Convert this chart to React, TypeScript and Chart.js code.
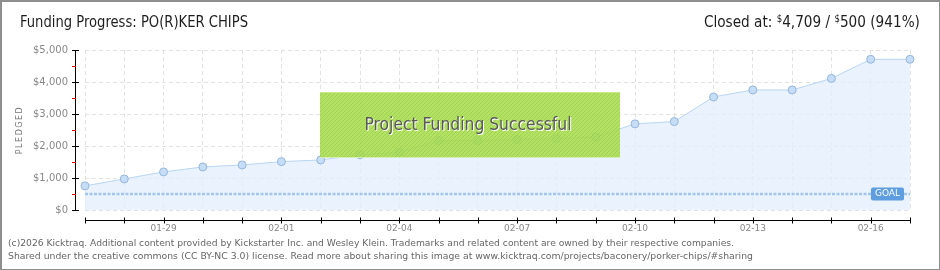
import React, { useEffect, useLayoutEffect, useRef } from 'react';
import { Chart, registerables } from 'chart.js';

Chart.register(...registerables);

// ---------- data ----------
const dates = [
  '01-27', '01-28', '01-29', '01-30', '01-31', '02-01', '02-02', '02-03', '02-04', '02-05', '02-06',
  '02-07', '02-08', '02-09', '02-10', '02-11', '02-12', '02-13', '02-14', '02-15', '02-16', '02-17',
];
const pledged = [
  754, 972, 1190, 1346, 1408, 1511, 1564, 1726, 1807, 2171, 2171,
  2202, 2234, 2287, 2692, 2763, 3533, 3751, 3751, 4112, 4709, 4709,
];
const goalAmount = 500;
const labeledDates = ['01-29', '02-01', '02-04', '02-07', '02-10', '02-13', '02-16'];
const yMin = 0;
const yMax = 5000;
const yStep = 1000;
const yMinorStep = 500;

const titleText = 'Funding Progress: PO(R)KER CHIPS';
const closedLabel = 'Closed at:';
const closedAmount = '4,709';
const goalText = '500 (941%)';
const bannerText = 'Project Funding Successful';
const goalBadgeText = 'GOAL';
const yAxisTitle = 'PLEDGED';
const footerLines = [
  '(c)2026 Kicktraq. Additional content provided by Kickstarter Inc. and Wesley Klein. Trademarks and related content are owned by their respective companies.',
  'Shared under the creative commons (CC BY-NC 3.0) license. Read more about sharing this image at www.kicktraq.com/projects/baconery/porker-chips/#sharing',
];

const goalSeries = dates.map(() => goalAmount);

const UI_FONT = "'Liberation Sans Narrow', 'DejaVu Sans Condensed', 'DejaVu Sans', sans-serif";
const SMALL_FONT = "'DejaVu Sans', Verdana, sans-serif";

function FitText({ width, origin, style, children }: any) {
  const ref = useRef<HTMLSpanElement>(null);
  useLayoutEffect(() => {
    const el = ref.current;
    if (!el) return;
    const fit = () => {
      el.style.transform = 'none';
      const w = el.getBoundingClientRect().width;
      if (w > 0) el.style.transform = `scaleX(${width / w})`;
    };
    fit();
    (document as any).fonts?.ready?.then(fit);
  }, [width]);
  return (
    <span
      ref={ref}
      style={{
        display: 'inline-block',
        whiteSpace: 'nowrap',
        transformOrigin: origin === 'right' ? 'right center' : 'left center',
        ...style,
      }}
    >
      {children}
    </span>
  );
}

let hatch: CanvasPattern | null = null;
function getHatch(ctx: CanvasRenderingContext2D) {
  if (hatch) return hatch;
  const c = document.createElement('canvas');
  c.width = 4;
  c.height = 4;
  const g = c.getContext('2d')!;
  g.fillStyle = 'rgba(168,221,78,0.88)';
  g.fillRect(0, 0, 4, 4);
  g.strokeStyle = 'rgba(120,175,40,0.3)';
  g.lineWidth = 1;
  g.beginPath();
  g.moveTo(0, 4);
  g.lineTo(4, 0);
  g.stroke();
  hatch = ctx.createPattern(c, 'repeat');
  return hatch;
}

const decorPlugin = {
  id: 'decor',
  afterDatasetsDraw(chart: any) {
    const { ctx, scales } = chart;
    const x = scales.x;
    const y = scales.y;
    // GOAL badge at right end of goal line
    const gy = y.getPixelForValue(goalAmount);
    const right = x.getPixelForValue(dates.length - 1) - 6;
    const bw = 33;
    const bh = 13;
    ctx.save();
    ctx.fillStyle = '#5d9de0';
    ctx.beginPath();
    (ctx as any).roundRect(right - bw, gy - bh / 2, bw, bh, 2);
    ctx.fill();
    ctx.fillStyle = '#ffffff';
    ctx.font = `9px ${SMALL_FONT}`;
    ctx.textAlign = 'center';
    ctx.textBaseline = 'middle';
    ctx.fillText(goalBadgeText, right - bw / 2, gy);
    ctx.restore();

    // success banner
    const bx = 320;
    const by = 92;
    const bW = 300;
    const bH = 66;
    ctx.save();
    ctx.fillStyle = getHatch(ctx) as any;
    ctx.fillRect(bx, by, bW, bH);
    ctx.fillStyle = 'rgba(200,235,140,0.9)';
    ctx.fillRect(bx, by, bW, 1);
    ctx.fillStyle = 'rgba(220,240,190,0.9)';
    ctx.fillRect(bx, by + bH - 1, bW, 1);
    ctx.font = `17px ${UI_FONT}`;
    const tw = ctx.measureText(bannerText).width;
    const target = 207;
    const sx = target / tw;
    ctx.translate(bx + bW / 2 - 2, 130);
    ctx.scale(sx, 1);
    ctx.textAlign = 'center';
    ctx.textBaseline = 'alphabetic';
    ctx.fillStyle = '#ffffff';
    ctx.fillText(bannerText, 1 / sx, 1);
    ctx.fillStyle = '#5a5a5a';
    ctx.fillText(bannerText, 0, 0);
    ctx.restore();
  },
  afterDraw(chart: any) {
    const { ctx, scales } = chart;
    const x = scales.x;
    const y = scales.y;
    ctx.save();
    // y axis line, offset from chart area
    const ax = 75.5;
    ctx.strokeStyle = '#000';
    ctx.lineWidth = 1;
    ctx.beginPath();
    ctx.moveTo(ax, y.getPixelForValue(yMax));
    ctx.lineTo(ax, y.getPixelForValue(yMin) + 0.5);
    ctx.stroke();
    for (let v = yMin; v <= yMax; v += yStep) {
      const py = Math.round(y.getPixelForValue(v)) + 0.5;
      ctx.strokeStyle = '#000';
      ctx.beginPath();
      ctx.moveTo(72, py);
      ctx.lineTo(79, py);
      ctx.stroke();
    }
    for (let v = yMin + yMinorStep; v < yMax; v += yStep) {
      const py = Math.round(y.getPixelForValue(v)) + 0.5;
      ctx.strokeStyle = '#e00000';
      ctx.beginPath();
      ctx.moveTo(72, py);
      ctx.lineTo(76, py);
      ctx.stroke();
    }
    // x axis line, offset below chart area
    const ay = 220.5;
    ctx.strokeStyle = '#000';
    ctx.beginPath();
    ctx.moveTo(x.getPixelForValue(0), ay);
    ctx.lineTo(x.getPixelForValue(dates.length - 1) + 1, ay);
    ctx.stroke();
    for (let i = 0; i < dates.length; i++) {
      const px = Math.round(x.getPixelForValue(i)) + 0.5;
      ctx.beginPath();
      ctx.moveTo(px, ay - 3);
      ctx.lineTo(px, ay + 3);
      ctx.stroke();
    }
    // y axis title
    ctx.translate(20, (y.top + y.bottom) / 2);
    ctx.rotate(-Math.PI / 2);
    ctx.font = `8px ${SMALL_FONT}`;
    (ctx as any).letterSpacing = '1.5px';
    ctx.fillStyle = '#777';
    ctx.textAlign = 'center';
    ctx.textBaseline = 'middle';
    ctx.fillText(yAxisTitle, 0, 0);
    ctx.restore();
  },
};

function KickChart() {
  const canvasRef = useRef<HTMLCanvasElement>(null);
  useEffect(() => {
    const canvas = canvasRef.current!;
    const fixPad = (s: any) => {
      s.paddingLeft = 0;
      s.paddingRight = 0;
      s.paddingTop = 0;
      s.paddingBottom = 0;
    };
    const chart = new Chart(canvas, {
      type: 'line',
      data: {
        labels: dates,
        datasets: [
          {
            label: 'Goal',
            data: goalSeries,
            borderColor: '#a3c6ec',
            borderWidth: 2.5,
            borderDash: [3, 1.5],
            pointRadius: 0,
            fill: false,
            order: 1,
          },
          {
            label: 'Pledged',
            data: pledged,
            borderColor: '#b8d5f3',
            borderWidth: 1,
            backgroundColor: 'rgba(226,238,252,0.75)',
            fill: 'origin',
            tension: 0,
            pointRadius: 4,
            pointBackgroundColor: '#c5ddf6',
            pointBorderColor: '#96b6da',
            pointBorderWidth: 1,
            order: 2,
          },
        ],
      },
      options: {
        animation: false,
        responsive: false,
        devicePixelRatio: 1,
        layout: { padding: { left: 0, right: 30, top: 50, bottom: 0 } },
        plugins: { legend: { display: false }, tooltip: { enabled: false }, title: { display: false } },
        scales: {
          x: {
            type: 'category',
            offset: false,
            afterFit: (s: any) => {
              s.height = 60;
              fixPad(s);
            },
            grid: { color: '#e2e2e2', lineWidth: 1, drawTicks: false },
            border: { display: false, dash: [4, 3] } as any,
            ticks: {
              autoSkip: false,
              maxRotation: 0,
              padding: 13,
              color: '#888',
              font: { family: SMALL_FONT, size: 9 },
              callback: (_v: any, i: number) => (labeledDates.includes(dates[i]) ? dates[i] : ''),
            },
          },
          y: {
            min: yMin,
            max: yMax,
            afterFit: (s: any) => {
              s.width = 85;
              fixPad(s);
            },
            grid: { color: '#e2e2e2', lineWidth: 1, drawTicks: false },
            border: { display: false, dash: [4, 3] } as any,
            ticks: {
              stepSize: yStep,
              padding: 17,
              color: '#888',
              font: { family: SMALL_FONT, size: 10 },
              callback: (v: any) => '$' + Number(v).toLocaleString('en-US'),
            },
          },
        },
      },
      plugins: [decorPlugin],
    });
    return () => chart.destroy();
  }, []);
  return (
    <canvas
      ref={canvasRef}
      width={940}
      height={270}
      style={{ position: 'absolute', left: 0, top: 0, width: 940, height: 270, display: 'block' }}
    />
  );
}

export default function App() {
  return (
    <div
      style={{
        position: 'fixed',
        left: 0,
        top: 0,
        width: 940,
        height: 270,
        background: '#fff',
        overflow: 'hidden',
      }}
    >
      <KickChart />
      <div
        style={{
          position: 'absolute',
          left: 0,
          top: 0,
          width: 940,
          height: 270,
          boxSizing: 'border-box',
          border: '2px solid #8e8e8e',
          borderRight: '1px solid #8e8e8e',
          borderBottom: '1px solid #8e8e8e',
          pointerEvents: 'none',
        }}
      />
      <div style={{ position: 'absolute', left: 20, top: 14, fontFamily: UI_FONT, fontSize: 16, lineHeight: '16px', color: '#1e1e1e' }}>
        <FitText width={228}>{titleText}</FitText>
      </div>
      <div style={{ position: 'absolute', right: 20, top: 14, fontFamily: UI_FONT, fontSize: 16, lineHeight: '16px', color: '#1e1e1e' }}>
        <FitText width={216} origin="right">
          {closedLabel}{'  '}
          <span style={{ fontSize: 10, position: 'relative', top: -5 }}>$</span>
          {closedAmount} /{'  '}
          <span style={{ fontSize: 10, position: 'relative', top: -5 }}>$</span>
          {goalText}
        </FitText>
      </div>
      <div style={{ position: 'absolute', left: 8, top: 237, fontFamily: SMALL_FONT, fontSize: 9, lineHeight: '13px', color: '#666' }}>
        <div>
          <FitText width={726}>{footerLines[0]}</FitText>
        </div>
        <div>
          <FitText width={745}>{footerLines[1]}</FitText>
        </div>
      </div>
    </div>
  );
}
